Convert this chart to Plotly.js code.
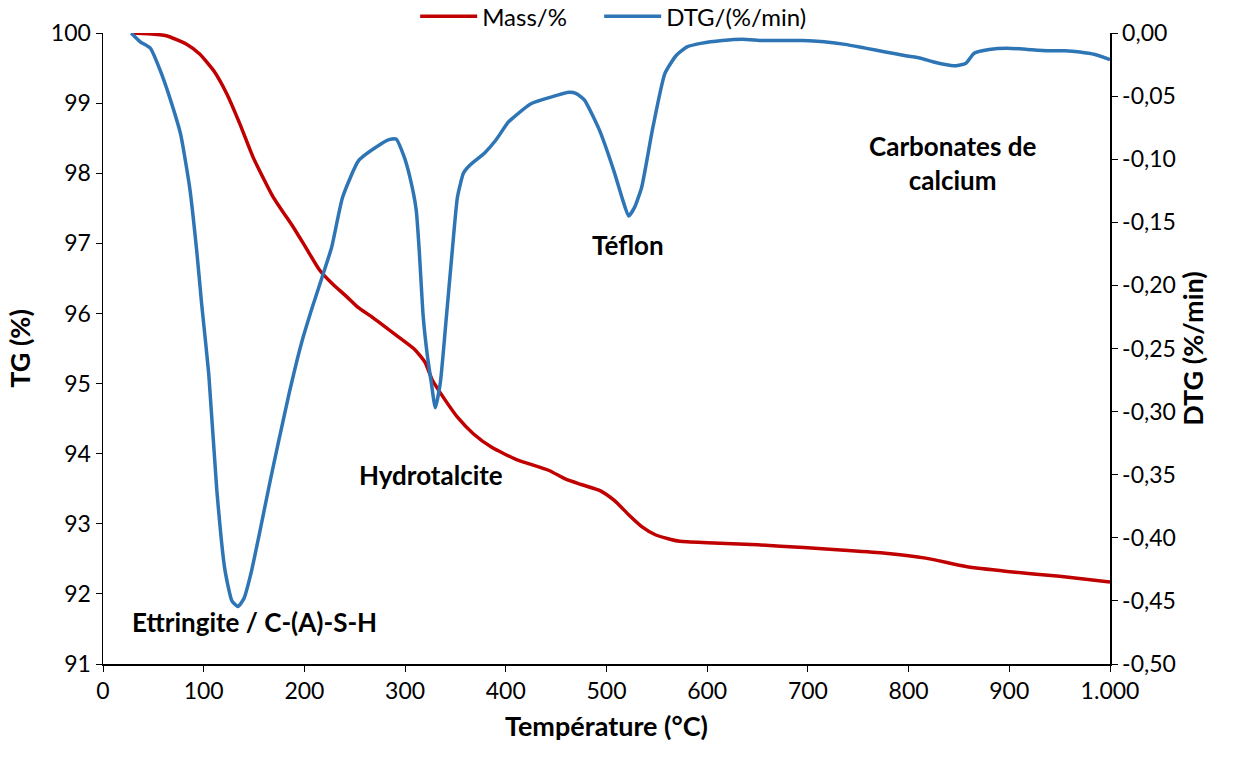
<!DOCTYPE html>
<html>
<head>
<meta charset="utf-8">
<script src="https://cdn.plot.ly/plotly-3.0.1.min.js"></script>
<style>html,body{margin:0;padding:0;background:#fff;}#chart{width:1237px;height:762px;}</style>
</head>
<body>
<div id="chart"></div>
<script>
// TG (mass %) curve
const tgTemp = [28, 45, 63, 83, 96, 110, 123, 136, 149, 169, 189, 201, 215, 228, 242, 253, 268, 291, 310, 320, 327, 340, 352, 368, 386, 410, 443, 459, 475, 494, 508, 522, 535, 549, 563, 573, 600, 650, 696, 740, 777, 817, 857, 898, 950, 1000];
const tgMass = [100.00, 99.99, 99.96, 99.84, 99.70, 99.46, 99.13, 98.70, 98.23, 97.66, 97.23, 96.95, 96.62, 96.42, 96.24, 96.09, 95.94, 95.69, 95.48, 95.30, 95.05, 94.76, 94.52, 94.28, 94.09, 93.92, 93.76, 93.64, 93.56, 93.47, 93.33, 93.13, 92.96, 92.84, 92.78, 92.75, 92.73, 92.70, 92.66, 92.62, 92.58, 92.51, 92.39, 92.32, 92.25, 92.17];

// DTG curve
const dtgTemp = [28, 37, 47, 57, 67, 77, 86, 93, 98, 105, 113, 121, 128, 134, 140, 147, 155, 166, 174, 185, 197, 208, 219, 227, 238, 254, 276, 284, 291, 299, 305, 311, 314, 318, 322, 326, 330, 335, 341, 347, 352, 358, 364, 379, 390, 402, 406, 425, 444, 463, 470, 478, 493, 508, 516, 522, 528, 535, 546, 558, 569, 580, 595, 615, 635, 655, 675, 695, 716, 737, 757, 777, 797, 812, 825, 845, 857, 865, 880, 898, 918, 938, 955, 970, 985, 1000];
const dtgVal = [0.000, -0.007, -0.012, -0.030, -0.053, -0.080, -0.122, -0.172, -0.215, -0.270, -0.362, -0.425, -0.450, -0.4545, -0.448, -0.428, -0.398, -0.355, -0.325, -0.285, -0.246, -0.217, -0.190, -0.170, -0.130, -0.101, -0.088, -0.0845, -0.084, -0.098, -0.115, -0.140, -0.172, -0.225, -0.255, -0.277, -0.297, -0.277, -0.225, -0.171, -0.130, -0.111, -0.105, -0.095, -0.085, -0.071, -0.068, -0.056, -0.051, -0.047, -0.048, -0.053, -0.077, -0.111, -0.132, -0.145, -0.138, -0.122, -0.075, -0.032, -0.018, -0.011, -0.008, -0.006, -0.005, -0.006, -0.006, -0.006, -0.007, -0.009, -0.012, -0.015, -0.018, -0.020, -0.023, -0.026, -0.024, -0.016, -0.013, -0.012, -0.013, -0.014, -0.014, -0.015, -0.017, -0.021];

// Tick labels
const xTickVals = [0, 100, 200, 300, 400, 500, 600, 700, 800, 900, 1000];
const xTickText = ["0", "100", "200", "300", "400", "500", "600", "700", "800", "900", "1.000"];
const tgTickVals = [91, 92, 93, 94, 95, 96, 97, 98, 99, 100];
const dtgTickVals = [0, -0.05, -0.10, -0.15, -0.20, -0.25, -0.30, -0.35, -0.40, -0.45, -0.50];
const dtgTickText = ["0,00", "-0,05", "-0,10", "-0,15", "-0,20", "-0,25", "-0,30", "-0,35", "-0,40", "-0,45", "-0,50"];

// Annotations
const labelTexts = ["Ettringite / C-(A)-S-H", "Hydrotalcite", "Téflon", "Carbonates de<br>calcium"];
const labelX = [150, 326, 521, 844];
const labelY = [91.6, 93.69, 96.98, 98.14];

const FONT = "Lato, 'Open Sans', sans-serif";

const traces = [
  {x: tgTemp, y: tgMass, name: "Mass/%", type: "scatter", mode: "lines", legendwidth: 112,
   line: {color: "#C00000", width: 3.5, shape: "spline", smoothing: 0.5}, yaxis: "y"},
  {x: dtgTemp, y: dtgVal, name: "DTG/(%/min)", type: "scatter", mode: "lines", legendwidth: 170,
   line: {color: "#2E75B6", width: 3.5, shape: "spline", smoothing: 0.5}, yaxis: "y2"}
];

const annotations = labelTexts.map((t, i) => ({
  text: t, x: labelX[i], y: labelY[i], xref: "x", yref: "y", showarrow: false,
  font: {family: FONT, size: 26, color: "#000", weight: "bold"}, align: "center"
}));

const layout = {
  width: 1237, height: 762,
  margin: {l: 103, r: 127, t: 33, b: 98, autoexpand: false},
  paper_bgcolor: "#fff", plot_bgcolor: "#fff",
  font: {family: FONT, color: "#000"},
  showlegend: true,
  legend: {orientation: "h", xref: "paper", x: 0.31, xanchor: "left", yref: "container", y: 0.978, yanchor: "middle",
           font: {family: FONT, size: 24, color: "#000"}, bgcolor: "rgba(0,0,0,0)", itemwidth: 57},
  xaxis: {range: [0, 1000], tickvals: xTickVals, ticktext: xTickText, showgrid: false, zeroline: false,
          showline: true, linecolor: "#000", linewidth: 1.5, ticks: "outside", ticklen: 6, tickcolor: "#000",
          tickfont: {family: FONT, size: 23, color: "#000"},
          title: {text: "Température (°C)", font: {family: FONT, size: 27, color: "#000", weight: "bold"}, standoff: 14}},
  yaxis: {range: [91, 100], tickvals: tgTickVals, showgrid: false, zeroline: false,
          showline: true, linecolor: "#000", linewidth: 1.5, ticks: "outside", ticklen: 6, tickcolor: "#000",
          tickfont: {family: FONT, size: 23, color: "#000"},
          title: {text: "TG (%)", font: {family: FONT, size: 27, color: "#000", weight: "bold"}, standoff: 12}},
  yaxis2: {range: [-0.5, 0], overlaying: "y", side: "right", tickvals: dtgTickVals, ticktext: dtgTickText,
           showgrid: false, zeroline: false, showline: true, linecolor: "#000", linewidth: 1.5,
           ticks: "outside", ticklen: 6, tickcolor: "#000",
           tickfont: {family: FONT, size: 23, color: "#000"},
           title: {text: "DTG (%/min)", font: {family: FONT, size: 27, color: "#000", weight: "bold"}, standoff: 8}},
  annotations: annotations
};

Plotly.newPlot("chart", traces, layout, {displayModeBar: false, staticPlot: true});
</script>
</body>
</html>
